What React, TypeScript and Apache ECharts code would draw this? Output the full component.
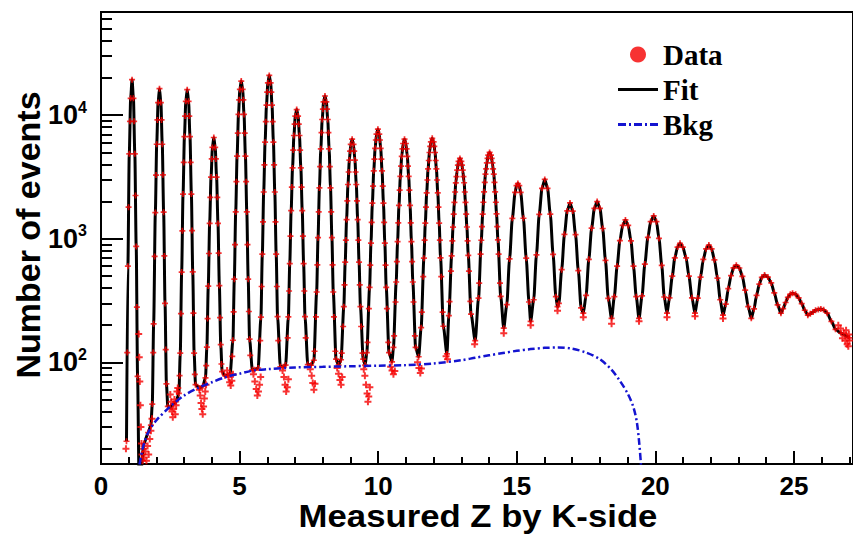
import React, { useEffect, useRef } from "react";
import * as echarts from "echarts";

// ---- axis ranges and ticks ----
const xRange = [0, 27.13];
const yRangeCounts = [15.05, 68400];
const xMajorTicks = [0, 5, 10, 15, 20, 25];
const xMinorTicks = [1, 2, 3, 4, 6, 7, 8, 9, 11, 12, 13, 14, 16, 17, 18, 19, 21, 22, 23, 24, 26, 27];
const yDecadeExponents = [2, 3, 4];
const yMinorCounts = [
  20, 30, 40, 50, 60, 70, 80, 90,
  200, 300, 400, 500, 600, 700, 800, 900,
  2000, 3000, 4000, 5000, 6000, 7000, 8000, 9000,
  20000, 30000, 40000, 50000, 60000,
];

// ---- Fit curve: [Z, events] ----
const fitCurve: [number, number][] = [
  [0.92, 23], [0.97, 600], [1.02, 4870], [1.07, 13700], [1.12, 19400], [1.17, 13700], [1.22, 4870], [1.27, 867], [1.32, 77], [1.37, 13], [1.42, 12],
  [1.55, 22], [1.7, 27], [1.8, 31], [1.85, 46], [1.9, 205], [1.96, 1630], [2.01, 5820], [2.06, 12660], [2.11, 16400], [2.16, 12660], [2.21, 5820], [2.26, 1640], [2.31, 300], [2.36, 67], [2.41, 44], [2.49, 43],
  [2.6, 46], [2.71, 48], [2.81, 56], [2.86, 119], [2.91, 538], [2.96, 2300], [3.01, 6710], [3.06, 12940], [3.11, 16100], [3.16, 12940], [3.21, 6710], [3.26, 2300], [3.31, 540], [3.36, 119], [3.41, 66], [3.55, 62],
  [3.67, 64], [3.77, 75], [3.82, 133], [3.87, 414], [3.92, 1330], [3.97, 3160], [4.02, 5490], [4.07, 6600], [4.12, 5490], [4.17, 3160], [4.22, 1330], [4.27, 418], [4.32, 139], [4.37, 84], [4.47, 78], [4.58, 79],
  [4.66, 81], [4.76, 151], [4.81, 471], [4.86, 1650], [4.91, 4660], [4.96, 10150], [5.01, 16170], [5.06, 18900], [5.11, 16170], [5.16, 10150], [5.21, 4660], [5.26, 1650], [5.31, 471], [5.36, 154], [5.46, 87], [5.54, 87],
  [5.67, 90], [5.77, 232], [5.82, 751], [5.87, 2390], [5.92, 6050], [5.97, 12080], [6.02, 18290], [6.07, 21000], [6.12, 18290], [6.17, 12080], [6.22, 6050], [6.27, 2390], [6.32, 751], [6.37, 234], [6.47, 92], [6.58, 92],
  [6.66, 95], [6.76, 233], [6.81, 630], [6.86, 1690], [6.91, 3740], [6.96, 6850], [7.01, 9840], [7.06, 11100], [7.11, 9840], [7.16, 6850], [7.21, 3740], [7.26, 1690], [7.31, 630], [7.36, 234], [7.46, 96], [7.58, 95],
  [7.68, 104], [7.78, 371], [7.83, 1020], [7.88, 2580], [7.93, 5340], [7.98, 9230], [8.03, 12820], [8.08, 14300], [8.13, 12820], [8.18, 9230], [8.23, 5340], [8.28, 2580], [8.33, 1020], [8.38, 371], [8.48, 106], [8.57, 95],
  [8.66, 105], [8.76, 282], [8.81, 647], [8.86, 1430], [8.91, 2750], [8.96, 4330], [9.01, 5800], [9.06, 6400], [9.11, 5800], [9.16, 4330], [9.21, 2750], [9.26, 1430], [9.31, 647], [9.36, 282], [9.46, 106], [9.53, 95],
  [9.59, 120], [9.69, 404], [9.74, 921], [9.79, 1940], [9.84, 3544], [9.89, 5390], [9.94, 7040], [9.99, 7700], [10.04, 7040], [10.09, 5390], [10.14, 3544], [10.19, 1940], [10.24, 921], [10.29, 404], [10.39, 120], [10.5, 101],
  [10.55, 132], [10.65, 447], [10.7, 949], [10.75, 1860], [10.8, 3194], [10.85, 4640], [10.9, 5900], [10.95, 6400], [11.0, 5900], [11.05, 4640], [11.1, 3194], [11.15, 1860], [11.2, 949], [11.25, 447], [11.35, 132], [11.46, 111],
  [11.55, 191], [11.65, 697], [11.7, 1338], [11.75, 2350], [11.8, 3677], [11.85, 4990], [11.9, 6080], [11.95, 6500], [12.0, 6080], [12.05, 4990], [12.1, 3677], [12.15, 2354], [12.2, 1338], [12.25, 700], [12.35, 196], [12.48, 117],
  [12.55, 239], [12.65, 728], [12.7, 1242], [12.75, 1970], [12.8, 2836], [12.85, 3590], [12.9, 4230], [12.95, 4470], [13.0, 4230], [13.05, 3590], [13.1, 2840], [13.15, 1970], [13.2, 1245], [13.25, 733], [13.35, 246], [13.5, 150],
  [13.62, 331], [13.72, 973], [13.77, 1586], [13.82, 2400], [13.87, 3335], [13.92, 4110], [13.97, 4760], [14.02, 5000], [14.07, 4760], [14.12, 4110], [14.17, 3335], [14.22, 2400], [14.27, 1590], [14.32, 978], [14.42, 342], [14.53, 189],
  [14.64, 293], [14.74, 687], [14.84, 1463], [14.94, 2374], [14.99, 2688], [15.04, 2800], [15.09, 2688], [15.14, 2375], [15.24, 1466], [15.34, 696], [15.44, 308], [15.5, 215],
  [15.61, 321], [15.71, 742], [15.81, 1578], [15.91, 2562], [16.01, 3020], [16.11, 2562], [16.21, 1580], [16.31, 747], [16.41, 340], [16.47, 282],
  [16.52, 300], [16.62, 562], [16.72, 1086], [16.82, 1679], [16.92, 1950], [17.02, 1677], [17.12, 1081], [17.22, 552], [17.32, 276], [17.4, 250],
  [17.5, 348], [17.6, 682], [17.7, 1219], [17.8, 1764], [17.9, 2000], [18.0, 1761], [18.1, 1211], [18.2, 669], [18.3, 329], [18.42, 227],
  [18.52, 340], [18.62, 600], [18.72, 966], [18.82, 1283], [18.92, 1420], [19.02, 1283], [19.12, 960], [19.21, 600], [19.31, 340], [19.41, 227],
  [19.52, 345], [19.62, 624], [19.73, 1026], [19.83, 1377], [19.94, 1530], [20.04, 1376], [20.13, 1007], [20.23, 609], [20.32, 338], [20.42, 250],
  [20.51, 333], [20.61, 499], [20.7, 700], [20.8, 857], [20.89, 920], [20.99, 857], [21.11, 700], [21.21, 499], [21.32, 333], [21.43, 250],
  [21.53, 331], [21.63, 490], [21.73, 681], [21.83, 830], [21.93, 890], [22.03, 828], [22.13, 676], [22.24, 481], [22.34, 321], [22.44, 241],
  [22.54, 296], [22.63, 395], [22.73, 504], [22.82, 582], [22.92, 612], [23.03, 580], [23.14, 497], [23.24, 384], [23.35, 282], [23.46, 227],
  [23.56, 271], [23.65, 348], [23.75, 430], [23.84, 488], [23.94, 509], [24.06, 490], [24.18, 439], [24.29, 365], [24.41, 292], [24.53, 250],
  [24.61, 272], [24.7, 305], [24.78, 336], [24.87, 356], [24.95, 363], [25.06, 355], [25.17, 333], [25.28, 299], [25.39, 264], [25.5, 241],
  [25.59, 247], [25.69, 256], [25.78, 264], [25.88, 268], [25.97, 270], [26.07, 266], [26.2, 250], [26.35, 215], [26.5, 185], [26.7, 172], [26.92, 162], [27.0, 158],
];

// ---- additional data points (red) read along the steep peak sides ----
const sideData: [number, number][] = [
  [0.945, 120], [0.995, 1800], [1.045, 8920], [1.195, 8920], [1.245, 2240], [1.295, 280],
  [1.885, 120], [1.935, 720], [1.985, 3280], [2.035, 9160], [2.185, 9160], [2.235, 3290], [2.285, 727], [2.335, 127],
  [2.835, 78], [2.885, 248], [2.935, 1160], [2.985, 4150], [3.035, 9840], [3.185, 9840], [3.235, 4160], [3.285, 1165], [3.335, 250], [3.385, 80],
  [3.795, 94], [3.845, 226], [3.895, 760], [3.945, 2160], [3.995, 4430], [4.145, 4430], [4.195, 2165], [4.245, 765], [4.295, 230], [4.345, 97],
  [4.735, 112], [4.785, 256], [4.835, 895], [4.885, 2900], [4.935, 7150], [4.985, 13320], [5.135, 13320], [5.185, 7150], [5.235, 2900], [5.285, 897], [5.335, 258], [5.385, 114],
  [5.745, 150], [5.795, 411], [5.845, 1370], [5.895, 3960], [5.945, 8860], [5.995, 15400], [6.145, 15400], [6.195, 8860], [6.245, 3960], [6.295, 1370], [6.345, 411], [6.395, 150],
  [6.735, 158], [6.785, 378], [6.835, 1050], [6.885, 2620], [6.935, 5220], [6.985, 8460], [7.135, 8460], [7.185, 5220], [7.235, 2620], [7.285, 1050], [7.335, 378], [7.385, 158],
  [7.705, 123], [7.755, 233], [7.805, 615], [7.855, 1650], [7.905, 3840], [7.955, 7220], [8.005, 11180], [8.155, 11180], [8.205, 7220], [8.255, 3840], [8.305, 1650], [8.355, 615], [8.405, 233], [8.455, 123],
  [8.685, 119], [8.735, 195], [8.785, 424], [8.835, 976], [8.885, 2030], [8.935, 3470], [8.985, 5130], [9.135, 5130], [9.185, 3470], [9.235, 2030], [9.285, 976], [9.335, 424], [9.385, 195], [9.435, 119],
  [9.615, 145], [9.665, 272], [9.715, 612], [9.765, 1360], [9.815, 2670], [9.865, 4410], [9.915, 6300], [10.065, 6300], [10.115, 4410], [10.165, 2670], [10.215, 1360], [10.265, 612], [10.315, 272], [10.365, 145],
  [10.575, 164], [10.625, 308], [10.675, 654], [10.725, 1345], [10.775, 2480], [10.825, 3865], [10.875, 5340], [11.025, 5340], [11.075, 3865], [11.125, 2480], [11.175, 1345], [11.225, 654], [11.275, 308], [11.325, 164],
  [11.575, 255], [11.625, 494], [11.675, 975], [11.725, 1800], [11.775, 2990], [11.825, 4300], [11.875, 5600], [12.025, 5600], [12.075, 4300], [12.125, 2990], [12.175, 1800], [12.225, 975], [12.275, 494], [12.325, 255],
  [12.575, 310], [12.625, 548], [12.675, 960], [12.725, 1580], [12.775, 2390], [12.825, 3180], [12.875, 3950], [13.025, 3950], [13.075, 3180], [13.125, 2390], [13.175, 1580], [13.225, 960], [13.275, 548], [13.325, 312],
  [13.645, 437], [13.695, 750], [13.745, 1254], [13.795, 1975], [13.845, 2865], [13.895, 3680], [13.945, 4480], [14.095, 4480], [14.145, 3680], [14.195, 2865], [14.245, 1975], [14.295, 1254], [14.345, 750], [14.395, 437],
];

// ---- extra data points (red) that sit off the fit, mainly in the valleys ----
const valleyData: [number, number][] = [
  [0.9, 20], [0.92, 15],
  [1.36, 170], [1.38, 110], [1.4, 70], [1.42, 45], [1.44, 30], [1.46, 22], [1.48, 18], [1.5, 16], [1.53, 20], [1.56, 17], [1.6, 19], [1.64, 16], [1.68, 21], [1.72, 18], [1.76, 24], [1.8, 28], [1.84, 35],
  [2.5, 55], [2.53, 48], [2.56, 40], [2.59, 36], [2.62, 42], [2.65, 50], [2.68, 38], [2.71, 45], [2.74, 58], [2.77, 62],
  [3.55, 60], [3.58, 54], [3.61, 47], [3.64, 42], [3.67, 38], [3.7, 44], [3.73, 51], [3.76, 58], [3.79, 66],
  [4.55, 86], [4.6, 76], [4.64, 69], [4.68, 65], [4.72, 71], [4.76, 80],
  [5.5, 80], [5.55, 70], [5.6, 61], [5.64, 54], [5.68, 58], [5.72, 66], [5.76, 76],
  [6.55, 86], [6.6, 76], [6.64, 66], [6.68, 58], [6.72, 63], [6.76, 73],
  [7.55, 88], [7.6, 78], [7.64, 68], [7.68, 60], [7.72, 67],
  [8.52, 90], [8.57, 81], [8.62, 72], [8.66, 66], [8.7, 76],
  [9.48, 88], [9.52, 78], [9.56, 66], [9.6, 56], [9.63, 48], [9.66, 53], [9.7, 63],
  [10.45, 92], [10.5, 86], [10.55, 80], [10.6, 85],
  [11.42, 100], [11.47, 90], [11.52, 82], [11.56, 89],
  [12.45, 112], [12.5, 106],
  [13.48, 140], [14.53, 172], [15.5, 200], [16.47, 262], [17.4, 232], [18.42, 205], [19.41, 215], [20.42, 232], [21.43, 236], [22.44, 226],
  [26.6, 200], [26.68, 188], [26.75, 157], [26.8, 172], [26.85, 150], [26.88, 182], [26.92, 140], [26.96, 135], [27.0, 150], [26.98, 168],
];

// ---- Background curve (blue dash-dot) ----
const bkgZ = [1.39, 1.5, 1.7, 2.0, 2.5, 3.0, 3.5, 4.0, 4.5, 5.0, 5.5, 6.0, 7.0, 8.0, 9.0, 10.0, 11.0, 12.0, 13.0, 13.5, 14.0, 14.5, 15.0, 15.5, 16.0, 16.5, 17.0, 17.5, 18.0, 18.4, 18.7, 19.0, 19.2, 19.33, 19.42, 19.48];
const bkgN = [14.9, 20, 27, 34, 44, 54, 62, 69, 76, 81, 86, 88, 91, 92, 93, 94, 95, 98, 104, 109, 114, 119, 124, 128, 131, 132, 129, 120, 106, 88, 72, 56, 44, 33, 22, 14.9];

const SANS = "Liberation Sans, Arial, Helvetica, sans-serif";
const SERIF = "Liberation Serif, Times New Roman, serif";
const RED = "#f50000";
const CROSS = "path://M0,2.5H7V4.5H0Z M2.5,0H4.5V7H2.5Z";

export default function App() {
  const ref = useRef<HTMLDivElement>(null);

  useEffect(() => {
    if (!ref.current) return;
    const chart = echarts.init(ref.current, undefined, { renderer: "svg" });
    const lg = (v: number) => Math.log10(v);
    const yMin = lg(yRangeCounts[0]);
    const yMax = lg(yRangeCounts[1]);
    const axisColor = "#000";
    const tickStyle = { color: axisColor, width: 2 };

    const fitData = fitCurve.map(([z, n]) => [z, lg(n)]);
    const pointData = fitCurve.concat(sideData).map(([z, n]) => [z, lg(n)]);
    const clusterData = valleyData.map(([z, n]) => [z, lg(n)]);
    const bkgData = bkgZ.map((z, i) => [z, lg(bkgN[i])]);

    const option: any = {
      animation: false,
      backgroundColor: "#fff",
      grid: {
        left: 101,
        right: -5,
        top: 12,
        bottom: 74,
        show: true,
        borderColor: axisColor,
        borderWidth: 2,
        backgroundColor: "transparent",
      },
      legend: {
        orient: "vertical",
        left: 613,
        top: 35,
        itemWidth: 40,
        itemHeight: 16,
        itemGap: 6,
        selectedMode: false,
        textStyle: { fontFamily: SERIF, fontWeight: "bold", fontSize: 29, color: "#000" },
        data: [
          { name: "Data", icon: "circle" },
          { name: "Fit", icon: "path://M0,0H40V3H0Z" },
          { name: "Bkg", icon: "path://M0,0H8V3H0Z M11,0H13V3H11Z M16,0H24V3H16Z M27,0H29V3H27Z M32,0H40V3H32Z" },
        ],
      },
      xAxis: [
        {
          type: "value",
          min: xRange[0],
          max: xRange[1],
          position: "bottom",
          axisLine: { show: true, onZero: false, lineStyle: tickStyle },
          axisTick: { show: true, inside: true, length: 13, customValues: xMajorTicks, lineStyle: tickStyle },
          axisLabel: {
            customValues: xMajorTicks,
            margin: 9,
            color: "#000",
            fontSize: 26,
            fontWeight: "bold",
            fontFamily: SANS,
          },
          splitLine: { show: false },
        },
        {
          type: "value",
          min: xRange[0],
          max: xRange[1],
          position: "bottom",
          axisLine: { show: false },
          axisTick: { show: true, inside: true, length: 7, customValues: xMinorTicks, lineStyle: tickStyle },
          axisLabel: { show: false },
          splitLine: { show: false },
        },
      ],
      yAxis: [
        {
          type: "value",
          min: yMin,
          max: yMax,
          position: "left",
          axisLine: { show: true, onZero: false, lineStyle: tickStyle },
          axisTick: { show: true, inside: true, length: 22, customValues: yDecadeExponents, lineStyle: tickStyle },
          axisLabel: {
            customValues: yDecadeExponents,
            margin: 14,
            formatter: (v: number) => `{a|10}{b|${Math.round(v)}}`,
            rich: {
              a: { fontSize: 27, fontWeight: "bold", fontFamily: SANS, color: "#000", lineHeight: 32 },
              b: { fontSize: 16, fontWeight: "bold", fontFamily: SANS, color: "#000", verticalAlign: "top", lineHeight: 16 },
            },
          },
          splitLine: { show: false },
        },
        {
          type: "value",
          min: yMin,
          max: yMax,
          position: "left",
          axisLine: { show: false },
          axisTick: { show: true, inside: true, length: 11, customValues: yMinorCounts.map(lg), lineStyle: tickStyle },
          axisLabel: { show: false },
          splitLine: { show: false },
        },
      ],
      graphic: [
        {
          type: "text",
          x: 478,
          y: 516,
          scaleX: 1.12,
          style: {
            text: "Measured Z by K-side",
            fontSize: 31,
            fontWeight: "bold",
            fontFamily: SANS,
            fill: "#000",
            align: "center",
            verticalAlign: "middle",
            textAlign: "center",
            textVerticalAlign: "middle",
          },
        },
        {
          type: "text",
          x: 28,
          y: 235,
          rotation: Math.PI / 2,
          style: {
            text: "Number of events",
            fontSize: 34,
            fontWeight: "bold",
            fontFamily: SANS,
            fill: "#000",
            align: "center",
            verticalAlign: "middle",
            textAlign: "center",
            textVerticalAlign: "middle",
          },
        },
      ],
      series: [
        {
          name: "Fit",
          type: "line",
          xAxisIndex: 0,
          yAxisIndex: 0,
          data: fitData,
          showSymbol: false,
          symbol: "none",
          smooth: 0.25,
          smoothMonotone: "x",
          lineStyle: { color: "#000", width: 3 },
          itemStyle: { color: "#000" },
          z: 2,
        },
        {
          name: "Data",
          type: "scatter",
          xAxisIndex: 0,
          yAxisIndex: 0,
          data: pointData,
          symbol: CROSS,
          symbolSize: 6,
          itemStyle: { color: RED },
          z: 3,
        },
        {
          name: "Data",
          type: "scatter",
          xAxisIndex: 0,
          yAxisIndex: 0,
          data: clusterData,
          symbol: CROSS,
          symbolSize: 7,
          itemStyle: { color: RED },
          z: 3,
        },
        {
          name: "Bkg",
          type: "line",
          xAxisIndex: 0,
          yAxisIndex: 0,
          data: bkgData,
          showSymbol: false,
          symbol: "none",
          smooth: 0.3,
          lineStyle: { color: "#1414d0", width: 2.5, type: [7, 3, 2, 3] },
          itemStyle: { color: "#1414d0" },
          z: 4,
        },
      ],
    };

    chart.setOption(option);
    return () => chart.dispose();
  }, []);

  return (
    <div
      ref={ref}
      style={{ position: "absolute", left: 0, top: 0, width: 853, height: 538, background: "#fff" }}
    />
  );
}
